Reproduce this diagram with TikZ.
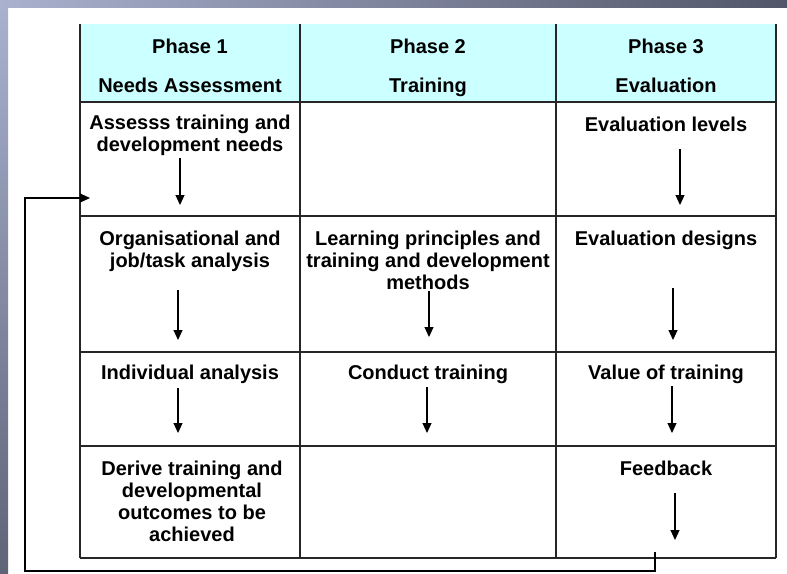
\documentclass[tikz,border=0pt]{standalone}
\usepackage{fontspec}
\setmainfont{Liberation Sans}
\usetikzlibrary{arrows.meta}
\definecolor{headcyan}{HTML}{CCFFFF}
\definecolor{slidelight}{HTML}{A9B1CE}
\definecolor{slidedark}{HTML}{525669}
\tikzset{
  celltxt/.style={align=center, inner sep=0pt, font=\bfseries\fontsize{20}{22}\selectfont},
  phasetxt/.style={celltxt, anchor=base},
  gridline/.style={line width=1.2pt, draw=black!85},
  downarrow/.style={line width=1.1pt, -{Triangle[width=9pt,length=10pt]}}
}
\begin{document}
\begin{tikzpicture}[x=1pt, y=-1pt]
\useasboundingbox (0, 0) rectangle (787, 573);
\fill[white] (0, 0) rectangle (787, 573);
\shade[left color=slidelight, right color=slidedark] (0, 0) rectangle (787, 7);
\shade[top color=slidelight, bottom color=slidedark!85!slidelight] (0, 7) rectangle (8, 573);
% header band and grid
\fill[headcyan] (80, 24) rectangle (776, 102);
\draw[gridline] (80, 24) -- (80, 558) (300, 24) -- (300, 558) (556, 24) -- (556, 558) (776, 24) -- (776, 558);
\draw[gridline] (80, 102) -- (776, 102) (80, 216) -- (776, 216) (80, 352) -- (776, 352) (80, 446) -- (776, 446) (80, 558) -- (776, 558);
% phase headers
\node[phasetxt] (ph1) at (190, 53) {Phase 1};
\node[phasetxt] (ph1name) at (190, 92) {Needs Assessment};
\node[phasetxt] (ph2) at (428, 53) {Phase 2};
\node[phasetxt] (ph2name) at (428, 92) {Training};
\node[phasetxt] (ph3) at (666, 53) {Phase 3};
\node[phasetxt] (ph3name) at (666, 92) {Evaluation};
% cells
\node[celltxt] (assess) at (190, 135) {Assesss training and\\development needs};
\node[celltxt] (levels) at (666, 124) {Evaluation levels};
\node[celltxt] (orgjob) at (190, 251) {Organisational and\\job/task analysis};
\node[celltxt] (learning) at (428, 260) {Learning principles and\\training and development\\methods};
\node[celltxt] (designs) at (666, 240) {Evaluation designs};
\node[celltxt] (individual) at (190, 374) {Individual analysis};
\node[celltxt] (conduct) at (428, 374) {Conduct training};
\node[celltxt] (value) at (666, 374) {Value of training};
\node[celltxt] (derive) at (192, 501) {Derive training and\\developmental\\outcomes to be\\achieved};
\node[celltxt] (feedback) at (666, 468) {Feedback};
% arrow ends
\coordinate (assessA) at (180, 158); \coordinate (assessB) at (180, 205);
\coordinate (levelsA) at (680, 149); \coordinate (levelsB) at (680, 205);
\coordinate (orgjobA) at (178, 290); \coordinate (orgjobB) at (178, 340);
\coordinate (learningA) at (429, 291); \coordinate (learningB) at (429, 337);
\coordinate (designsA) at (673, 288); \coordinate (designsB) at (673, 340);
\coordinate (individualA) at (178, 388); \coordinate (individualB) at (178, 433);
\coordinate (conductA) at (427, 387); \coordinate (conductB) at (427, 433);
\coordinate (valueA) at (672, 386); \coordinate (valueB) at (672, 433);
\coordinate (feedbackA) at (675, 493); \coordinate (feedbackB) at (675, 540);
\draw[downarrow] (assessA) -- (assessB);
\draw[downarrow] (levelsA) -- (levelsB);
\draw[downarrow] (orgjobA) -- (orgjobB);
\draw[downarrow] (learningA) -- (learningB);
\draw[downarrow] (designsA) -- (designsB);
\draw[downarrow] (individualA) -- (individualB);
\draw[downarrow] (conductA) -- (conductB);
\draw[downarrow] (valueA) -- (valueB);
\draw[downarrow] (feedbackA) -- (feedbackB);
% feedback loop back to phase 1
\coordinate (loopstart) at (655, 552);
\coordinate (loopend) at (90, 198);
\draw[downarrow] (loopstart) -- (655, 571) -- (25, 571) -- (25, 198) -- (loopend);
\end{tikzpicture}
\end{document}
